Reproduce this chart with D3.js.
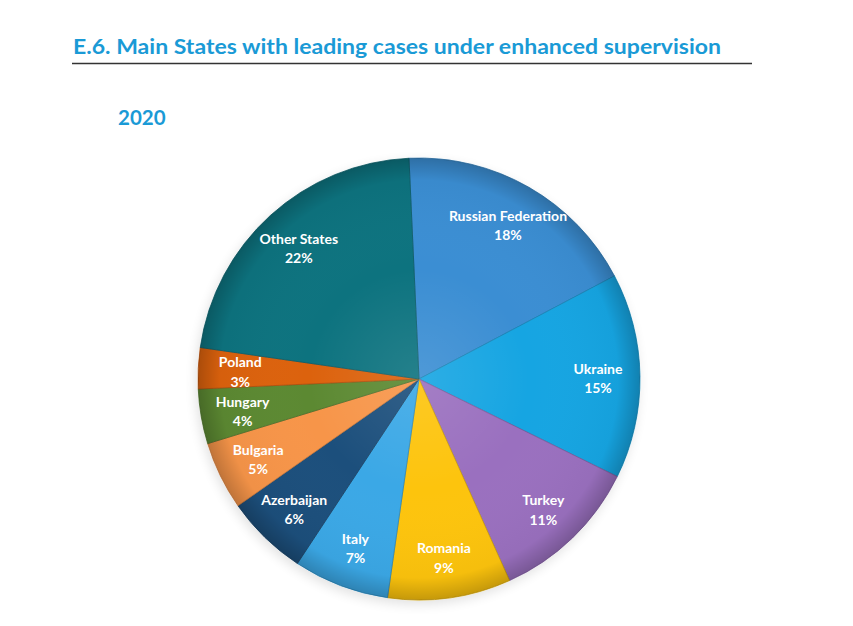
<!DOCTYPE html>
<html>
<head>
<meta charset="utf-8">
<script src="https://cdn.jsdelivr.net/npm/d3@7"></script>
<style>
  html, body { margin: 0; padding: 0; background: #ffffff; }
  svg { display: block; }
</style>
</head>
<body>
<svg id="chart" width="853" height="626"></svg>
<script>
const title = "E.6. Main States with leading cases under enhanced supervision";
const subtitle = "2020";
const categories = ["Russian Federation", "Ukraine", "Turkey", "Romania", "Italy", "Azerbaijan", "Bulgaria", "Hungary", "Poland", "Other States"];
const values = [18, 15, 11, 9, 7, 6, 5, 4, 3, 22];
const colors = ["#3a8ed3", "#17a5e2", "#9a6fbf", "#fdc40e", "#3aa8e6", "#1e4f7b", "#f7954a", "#5c8933", "#dc620f", "#11737f"];

const svg = d3.select("#chart");
const blue = "#1a9ad6";

// Title
svg.append("text")
  .attr("x", 73).attr("y", 54)
  .attr("font-family", "Lato, 'Open Sans', sans-serif")
  .attr("font-weight", 700)
  .attr("font-size", 21.5)
  .attr("fill", blue)
  .attr("textLength", 648)
  .attr("lengthAdjust", "spacingAndGlyphs")
  .text(title);

svg.append("line")
  .attr("x1", 72).attr("x2", 752)
  .attr("y1", 63.5).attr("y2", 63.5)
  .attr("stroke", "#333").attr("stroke-width", 1.3);

svg.append("text")
  .attr("x", 118).attr("y", 125)
  .attr("font-family", "Lato, 'Open Sans', sans-serif")
  .attr("font-weight", 700)
  .attr("font-size", 20.5)
  .attr("fill", blue)
  .text(subtitle);

// Pie
const cx = 419, cy = 379, R = 221;
const startAngle = -2.6 * Math.PI / 180;

const pie = d3.pie().sort(null).value(d => d.value)
  .startAngle(startAngle).endAngle(startAngle + 2 * Math.PI);
const data = categories.map((c, i) => ({ name: c, value: values[i], color: colors[i] }));
const arcs = pie(data);

const arc = d3.arc().innerRadius(0).outerRadius(R);
const labelArc = d3.arc().innerRadius(R * 0.81).outerRadius(R * 0.81);

const defs = svg.append("defs");
const shade = defs.append("radialGradient").attr("id", "shade")
  .attr("gradientUnits", "userSpaceOnUse")
  .attr("cx", 0).attr("cy", 0).attr("r", R);
shade.append("stop").attr("offset", "0").attr("stop-color", "#ffffff").attr("stop-opacity", 0.10);
shade.append("stop").attr("offset", "0.5").attr("stop-color", "#ffffff").attr("stop-opacity", 0.0);
shade.append("stop").attr("offset", "0.9").attr("stop-color", "#000000").attr("stop-opacity", 0.03);
shade.append("stop").attr("offset", "1").attr("stop-color", "#000000").attr("stop-opacity", 0.22);

const filt = defs.append("filter").attr("id", "shadow")
  .attr("x", "-20%").attr("y", "-20%").attr("width", "140%").attr("height", "140%");
filt.append("feGaussianBlur").attr("in", "SourceAlpha").attr("stdDeviation", 6);
filt.append("feOffset").attr("dx", -2).attr("dy", 4).attr("result", "b");
filt.append("feComponentTransfer").append("feFuncA").attr("type", "linear").attr("slope", 0.12);
const merge = filt.append("feMerge");
merge.append("feMergeNode");
merge.append("feMergeNode").attr("in", "SourceGraphic");

const g = svg.append("g").attr("transform", `translate(${cx},${cy})`);

const slices = g.append("g").attr("filter", "url(#shadow)");
slices.selectAll("path.slice")
  .data(arcs)
  .join("path")
  .attr("class", "slice")
  .attr("d", arc)
  .attr("fill", d => d.data.color)
  .attr("stroke", d => d3.color(d.data.color).darker(0.6))
  .attr("stroke-width", 0.8)
  .attr("stroke-linejoin", "round");

g.selectAll("path.overlay")
  .data(arcs)
  .join("path")
  .attr("class", "overlay")
  .attr("d", arc)
  .attr("fill", "url(#shade)")
  .attr("pointer-events", "none");

// Labels
const labels = g.selectAll("text.lbl")
  .data(arcs)
  .join("text")
  .attr("class", "lbl")
  .attr("transform", d => `translate(${labelArc.centroid(d)})`)
  .attr("text-anchor", "middle")
  .attr("font-family", "Lato, 'Open Sans', sans-serif")
  .attr("font-weight", 700)
  .attr("font-size", 14)
  .attr("fill", "#ffffff");

labels.append("tspan")
  .attr("x", 0).attr("dy", "-0.2em")
  .text(d => d.data.name);
labels.append("tspan")
  .attr("x", 0).attr("dy", "1.4em")
  .text(d => d.data.value + "%");
</script>
</body>
</html>
